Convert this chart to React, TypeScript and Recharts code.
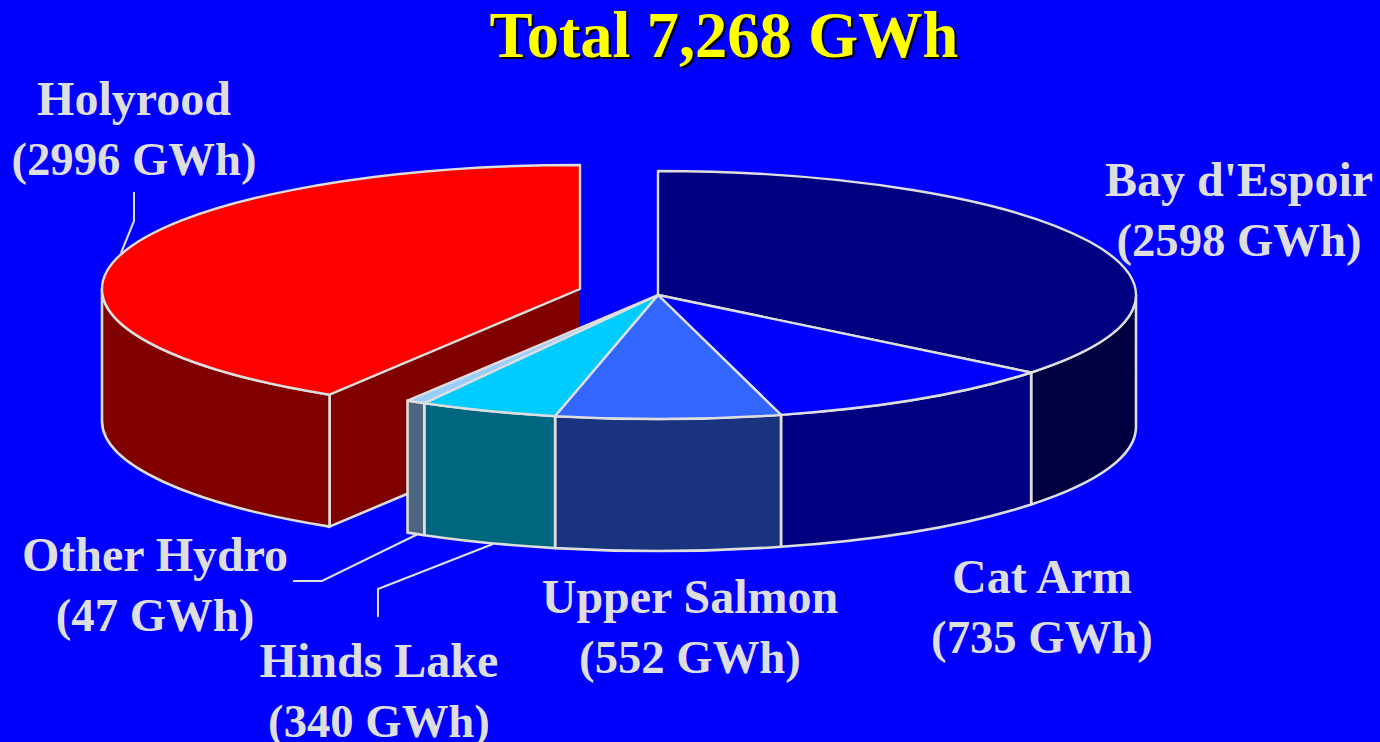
import React from "react";
import { PieChart, Pie } from "recharts";

const TITLE = "Total 7,268 GWh";
const names = ["Holyrood", "Bay d'Espoir", "Cat Arm", "Upper Salmon", "Hinds Lake", "Other Hydro"];
const values = [2996, 2598, 735, 552, 340, 47];
const topColors = ["#ff0000", "#000080", "#0000ff", "#3366ff", "#00ccff", "#99ccff"];
const wallColors = ["#800000", "#000040", "#000080", "#19337f", "#00667f", "#4d6680"];
const data = names.map((name, i) => ({ name, value: values[i], fill: topColors[i], wall: wallColors[i] }));

const W = 1380;
const H = 742;
const CX = 658;
const CY = 295;
const RX = 478;
const SQUASH = 124 / 478;
const DEPTH = 132;
const START = -121.6;
const EDGE = "#dedede";
const TEXT = "#dedede";
const EXPLODED = "Holyrood";
const EXPLODE_DX = -78;
const EXPLODE_DY = -6;

const labelLayout = [
  { name: "Holyrood", x: 134, y: 115 },
  { name: "Bay d'Espoir", x: 1239, y: 196 },
  { name: "Cat Arm", x: 1042, y: 593 },
  { name: "Upper Salmon", x: 690, y: 613 },
  { name: "Hinds Lake", x: 379, y: 677 },
  { name: "Other Hydro", x: 155, y: 571 },
];
const leaders = [
  "134,192 134,221 121,253",
  "293,581 322,581 418,534",
  "378,617 378,589 493,544",
];

function Slice3D(props: any) {
  const { startAngle: s, endAngle: e, outerRadius, fill, wall, name } = props;
  const off = name === EXPLODED;
  const cx = props.cx + (off ? EXPLODE_DX : 0);
  const cy = props.cy + (off ? EXPLODE_DY : 0);
  const rx = outerRadius;
  const ry = outerRadius * SQUASH;
  const pt = (a: number, d = 0) => {
    const r = (a * Math.PI) / 180;
    return [cx + rx * Math.cos(r), cy - ry * Math.sin(r) + d];
  };
  const [sx, sy] = pt(s);
  const [ex, ey] = pt(e);
  const large = Math.abs(s - e) > 180 ? 1 : 0;
  const top = `M${cx},${cy}L${sx},${sy}A${rx},${ry} 0 ${large} 1 ${ex},${ey}Z`;
  const walls: string[] = [];
  for (const k of [0, -360, -720]) {
    const hi = Math.min(s, k);
    const lo = Math.max(e, k - 180);
    if (hi > lo) {
      const [a, b] = pt(hi);
      const [c, d] = pt(lo);
      const [f, g] = pt(lo, DEPTH);
      const [h, j] = pt(hi, DEPTH);
      walls.push(`M${a},${b}A${rx},${ry} 0 0 1 ${c},${d}L${f},${g}A${rx},${ry} 0 0 0 ${h},${j}Z`);
    }
  }
  return (
    <g>
      {off && (
        <>
          <path
            d={`M${sx},${sy}L${cx},${cy}L${cx},${cy + DEPTH}L${sx},${sy + DEPTH}Z`}
            fill={wall}
          />
          <path
            d={`M${sx},${sy}L${sx},${sy + DEPTH}L${cx},${cy + DEPTH}`}
            fill="none"
            stroke={EDGE}
            strokeWidth={2.6}
          />
        </>
      )}
      {walls.map((d) => (
        <path key={d} d={d} fill={wall} stroke={EDGE} strokeWidth={2.6} strokeLinejoin="round" />
      ))}
      <path d={top} fill={fill} stroke={EDGE} strokeWidth={2.4} strokeLinejoin="round" />
    </g>
  );
}

const textFont = { fontFamily: "'Liberation Serif', serif", fontWeight: 700 };

export default function App() {
  return (
    <div style={{ position: "absolute", left: 0, top: 0, width: W, height: H, background: "#0000ff", overflow: "hidden" }}>
      <PieChart width={W} height={H} margin={{ top: 0, right: 0, bottom: 0, left: 0 }}>
        <Pie
          data={data}
          dataKey="value"
          nameKey="name"
          cx={CX}
          cy={CY}
          innerRadius={0}
          outerRadius={RX}
          startAngle={START}
          endAngle={START - 360}
          isAnimationActive={false}
          shape={Slice3D}
          label={false}
          labelLine={false}
        />
        {leaders.map((p) => (
          <polyline key={p} points={p} fill="none" stroke={EDGE} strokeWidth={2} />
        ))}
        <text
          x={724}
          y={57}
          textAnchor="middle"
          fontSize={64.5}
          fill="#ffff00"
          style={{ ...textFont, filter: "drop-shadow(2.5px 2.5px 0 #000000)" }}
        >
          {TITLE}
        </text>
        {labelLayout.map((l) => (
          <text key={l.name} textAnchor="middle" fill={TEXT} style={textFont}>
            <tspan x={l.x} y={l.y} fontSize={48}>{l.name}</tspan>
            <tspan x={l.x} y={l.y + 60} fontSize={46.7}>{`(${values[names.indexOf(l.name)]} GWh)`}</tspan>
          </text>
        ))}
      </PieChart>
    </div>
  );
}
